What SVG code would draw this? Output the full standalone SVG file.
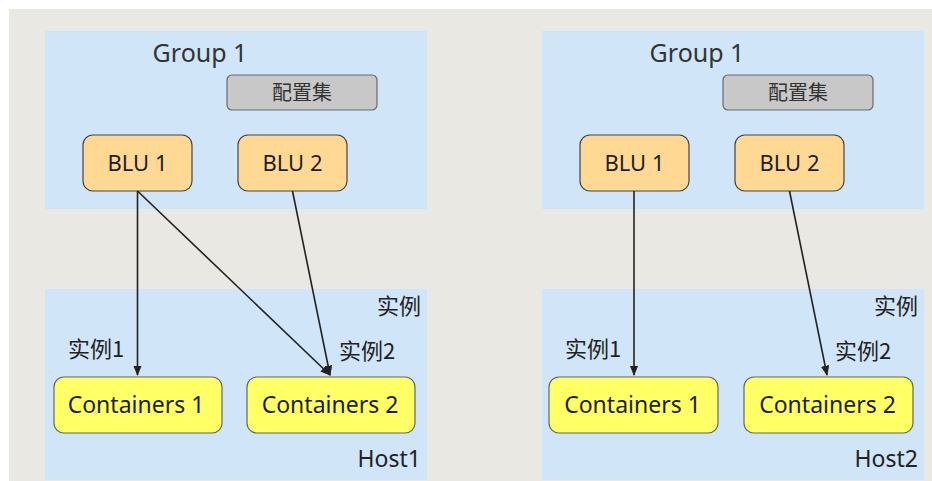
<svg xmlns="http://www.w3.org/2000/svg" width="932" height="481" viewBox="0 0 932 481">
  <style>
    text { font-family: "Noto Sans", "Open Sans", "Noto Sans CJK SC", sans-serif; fill: #1e1e1e; }
    .zone { fill: #d0e5f8; }
    .title { font-size: 25px; fill: #333; }
    .cfg rect { fill: #c8c8c8; stroke: #6a6a6a; stroke-width: 1.2; }
    .cfg text { font-size: 20px; font-family: "Noto Sans CJK SC", sans-serif; fill: #333; }
    .blu rect { fill: #ffd994; stroke: #444; stroke-width: 1.2; }
    .ctr rect { fill: #ffff66; stroke: #666; stroke-width: 1.2; }
    .blu text { font-size: 22px; }
    .ctr text { font-size: 23px; }
    .lbl { font-size: 22px; font-family: "Noto Sans CJK SC", sans-serif; fill: #222; }
    .host { font-size: 23px; fill: #222; }
    .edges line { stroke: #222; stroke-width: 1.6; marker-end: url(#arrow); }
  </style>
  <defs>
    <marker id="arrow" viewBox="0 0 10 10" refX="9" refY="5" markerWidth="6.5" markerHeight="6.5" markerUnits="strokeWidth" orient="auto">
      <path d="M0,1 L10,5 L0,9 z" fill="#222"/>
    </marker>
  </defs>

  <!-- canvas -->
  <rect x="9" y="9" width="923" height="472" fill="#e9e8e2"/>

  <!-- left side -->
  <g id="group-left">
    <rect class="zone" x="45" y="31" width="382" height="178"/>
    <text class="title" x="200" y="62" text-anchor="middle">Group 1</text>
  </g>
  <g id="host1">
    <rect class="zone" x="45" y="289" width="382" height="191"/>
    <text class="lbl" x="421" y="314" text-anchor="end">实例</text>
    <text class="host" x="421" y="467" text-anchor="end">Host1</text>
  </g>
  <g id="cfg-left" class="cfg">
    <rect x="227" y="75" width="150" height="35" rx="5"/>
    <text x="302" y="100" text-anchor="middle">配置集</text>
  </g>
  <g id="blu1-left" class="node blu">
    <rect x="83" y="135" width="109" height="56" rx="10"/>
    <text x="137.5" y="171" text-anchor="middle">BLU 1</text>
  </g>
  <g id="blu2-left" class="node blu">
    <rect x="238" y="135" width="109" height="56" rx="10"/>
    <text x="292.5" y="171" text-anchor="middle">BLU 2</text>
  </g>
  <g id="ctr1-left" class="node ctr">
    <rect x="54" y="377" width="168" height="56" rx="10"/>
    <text x="136" y="413" text-anchor="middle">Containers 1</text>
  </g>
  <g id="ctr2-left" class="node ctr">
    <rect x="247" y="377" width="168" height="56" rx="10"/>
    <text x="330" y="413" text-anchor="middle">Containers 2</text>
  </g>
  <text class="lbl" x="68" y="357">实例1</text>
  <text class="lbl" x="339" y="359">实例2</text>

  <!-- right side -->
  <g id="group-right">
    <rect class="zone" x="542" y="31" width="382" height="178"/>
    <text class="title" x="697" y="62" text-anchor="middle">Group 1</text>
  </g>
  <g id="host2">
    <rect class="zone" x="542" y="289" width="382" height="191"/>
    <text class="lbl" x="918" y="314" text-anchor="end">实例</text>
    <text class="host" x="918" y="467" text-anchor="end">Host2</text>
  </g>
  <g id="cfg-right" class="cfg">
    <rect x="723" y="75" width="150" height="35" rx="5"/>
    <text x="798" y="100" text-anchor="middle">配置集</text>
  </g>
  <g id="blu1-right" class="node blu">
    <rect x="580" y="135" width="109" height="56" rx="10"/>
    <text x="634.5" y="171" text-anchor="middle">BLU 1</text>
  </g>
  <g id="blu2-right" class="node blu">
    <rect x="735" y="135" width="109" height="56" rx="10"/>
    <text x="789.5" y="171" text-anchor="middle">BLU 2</text>
  </g>
  <g id="ctr1-right" class="node ctr">
    <rect x="549" y="377" width="169" height="56" rx="10"/>
    <text x="632.5" y="413" text-anchor="middle">Containers 1</text>
  </g>
  <g id="ctr2-right" class="node ctr">
    <rect x="744" y="377" width="169" height="56" rx="10"/>
    <text x="827.5" y="413" text-anchor="middle">Containers 2</text>
  </g>
  <text class="lbl" x="565" y="357">实例1</text>
  <text class="lbl" x="835" y="359">实例2</text>

  <!-- connectors -->
  <g class="edges">
    <line x1="137.5" y1="191" x2="137.5" y2="375"/>
    <line x1="137.5" y1="191" x2="330" y2="375"/>
    <line x1="292.5" y1="191" x2="330" y2="375"/>
    <line x1="634" y1="191" x2="634" y2="375"/>
    <line x1="789.5" y1="191" x2="827" y2="375"/>
  </g>
</svg>
